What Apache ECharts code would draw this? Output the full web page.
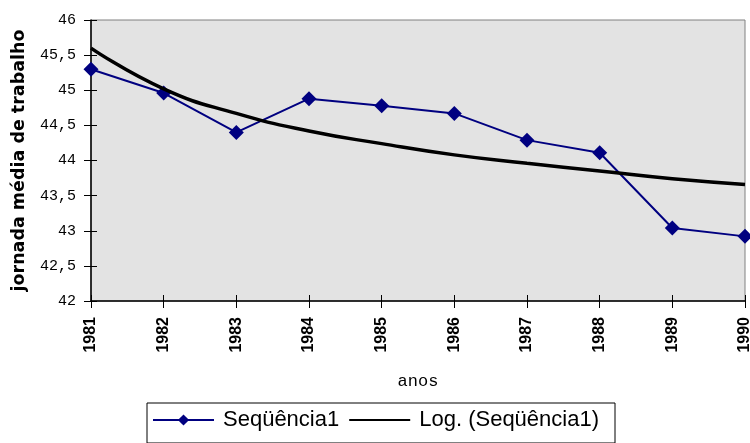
<!DOCTYPE html>
<html><head><meta charset="utf-8">
<script src="https://cdn.jsdelivr.net/npm/echarts@6/dist/echarts.min.js"></script>
<style>html,body{margin:0;padding:0;background:#fff}#c{width:750px;height:443px}</style>
</head><body><div id="c"></div>
<script>
const years = ['1981','1982','1983','1984','1985','1986','1987','1988','1989','1990'];
const seq1 = [45.30, 44.96, 44.40, 44.88, 44.78, 44.67, 44.29, 44.11, 43.04, 42.92];
const logTrend = [45.60, 45.02, 44.67, 44.42, 44.24, 44.08, 43.96, 43.85, 43.74, 43.66];
const seriesNames = ['Seqüência1', 'Log. (Seqüência1)'];
const yName = 'jornada média de trabalho';
const xName = 'anos';

const chart = echarts.init(document.getElementById('c'));
chart.setOption({
  animation: false,
  backgroundColor: '#ffffff',
  grid: {left: 91, right: 5, top: 20, bottom: 142, show: true, outerBoundsMode: 'none', containLabel: false,
         backgroundColor: '#e3e3e3', borderColor: '#808080', borderWidth: 1},
  xAxis: [{
    type: 'category', data: years, boundaryGap: false,
    name: xName, nameLocation: 'middle', nameGap: 72,
    nameTextStyle: {fontFamily: 'Liberation Mono', fontSize: 17, color: '#000'},
    axisLine: {lineStyle: {color: '#000', width: 1.5}},
    axisTick: {show: true, length: 7, lineStyle: {color: '#000'}},
    axisLabel: {rotate: 90, fontFamily: 'Liberation Sans', fontSize: 16, fontWeight: 'bold', color: '#000', margin: 16},
    splitLine: {show: false}
  }, {
    type: 'category', data: years, boundaryGap: false, position: 'bottom',
    axisLine: {show: false}, axisLabel: {show: false},
    axisTick: {show: true, inside: true, length: 6, lineStyle: {color: '#000'}}
  }],
  yAxis: [{
    type: 'value', min: 42, max: 46, interval: 0.5,
    name: yName, nameLocation: 'middle', nameGap: 63,
    nameTextStyle: {fontFamily: 'DejaVu Sans', fontSize: 17.5, fontWeight: 'bold', color: '#000'},
    axisLine: {show: true, lineStyle: {color: '#000', width: 1.5}},
    axisTick: {show: true, length: 7, lineStyle: {color: '#000'}},
    axisLabel: {fontFamily: 'Liberation Mono', fontSize: 15, color: '#000', margin: 15,
                formatter: v => String(v).replace('.', ',')},
    splitLine: {show: false}
  }, {
    type: 'value', min: 42, max: 46, interval: 0.5, position: 'left',
    axisLine: {show: false}, axisLabel: {show: false}, splitLine: {show: false},
    axisTick: {show: true, inside: true, length: 6, lineStyle: {color: '#000'}}
  }],
  legend: {
    left: 147, top: 403, orient: 'horizontal',
    data: [{name: seriesNames[0]}, {name: seriesNames[1], itemStyle: {opacity: 0}}],
    borderColor: '#000', borderWidth: 1, padding: [6, 16, 12, 5],
    itemWidth: 61, itemHeight: 14, itemGap: 9,
    textStyle: {fontFamily: 'Liberation Sans', fontSize: 22, color: '#000', padding: [0, 0, 0, 4]}
  },
  series: [
    {name: seriesNames[0], type: 'line', data: seq1, symbol: 'diamond', symbolSize: 15,
     lineStyle: {color: '#000080', width: 2}, itemStyle: {color: '#000080'}, z: 2},
    {name: seriesNames[1], type: 'line', data: logTrend, symbol: 'none', smooth: true,
     lineStyle: {color: '#000', width: 3.5}, itemStyle: {color: '#000'}, z: 3}
  ]
});
</script></body></html>
